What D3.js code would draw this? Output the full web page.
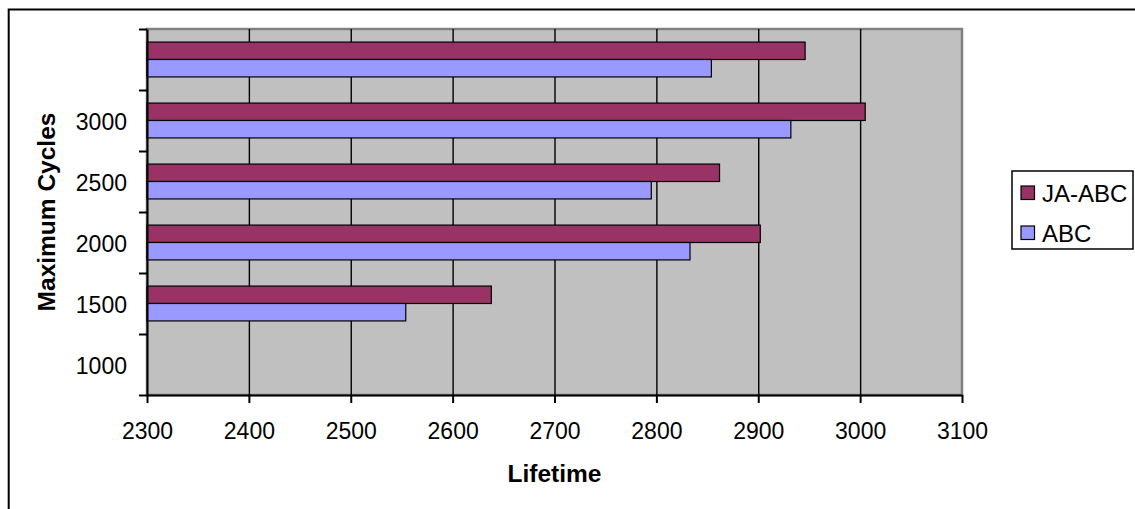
<!DOCTYPE html>
<html>
<head>
<meta charset="utf-8">
<script src="https://cdn.jsdelivr.net/npm/d3@7"></script>
<style>
  html, body { margin: 0; padding: 0; background: #fff; }
  svg { display: block; font-family: "Liberation Sans", Arial, sans-serif; }
</style>
</head>
<body>
<svg id="chart" width="1135" height="509"></svg>
<script>
// Category labels, bottom to top (the top group carries no label)
const categories = ["1000", "1500", "2000", "2500", "3000", ""];
const seriesNames = ["JA-ABC", "ABC"];
const jaAbcValues = [null, 2638, 2902, 2862, 3005, 2946];
const abcValues   = [null, 2554, 2833, 2795, 2932, 2854];
const xTickValues = [2300, 2400, 2500, 2600, 2700, 2800, 2900, 3000, 3100];
const seriesColors = ["#993366", "#9999FF"];

const svg = d3.select("#chart");
const plot = { left: 147, top: 29, right: 962, bottom: 395 };

const x = d3.scaleLinear().domain([2300, 3100]).range([plot.left, plot.right]);

// Gap width 150%: inner padding 1.5/3.5, outer padding half of that
const y = d3.scaleBand()
  .domain(categories.slice().reverse())
  .range([plot.top, plot.bottom])
  .paddingInner(1.5 / 3.5)
  .paddingOuter(0.75 / 3.5);

const ySub = d3.scaleBand().domain(seriesNames).range([0, y.bandwidth()]);

const rows = categories.map((c, i) => ({
  cat: c,
  values: [
    { name: seriesNames[0], v: jaAbcValues[i], color: seriesColors[0] },
    { name: seriesNames[1], v: abcValues[i], color: seriesColors[1] }
  ]
}));

// Outer chart frame
svg.append("rect")
  .attr("x", 8.7).attr("y", 9.5)
  .attr("width", 1200).attr("height", 600)
  .attr("fill", "#fff").attr("stroke", "#000").attr("stroke-width", 2);

// Plot area
svg.append("rect")
  .attr("x", plot.left).attr("y", plot.top)
  .attr("width", plot.right - plot.left).attr("height", plot.bottom - plot.top)
  .attr("fill", "#C0C0C0").attr("stroke", "#808080").attr("stroke-width", 2.5);

// Vertical gridlines
svg.append("g")
  .attr("transform", `translate(0,${plot.bottom})`)
  .call(d3.axisBottom(x)
    .tickValues(xTickValues.slice(1, -1))
    .tickSize(-(plot.bottom - plot.top))
    .tickFormat(""))
  .call(g => g.select(".domain").remove())
  .call(g => g.selectAll("line").attr("stroke", "#000").attr("stroke-width", 1.4));

// Bars
const groups = svg.append("g").selectAll("g")
  .data(rows)
  .join("g")
  .attr("transform", d => `translate(0,${y(d.cat)})`);

groups.selectAll("rect")
  .data(d => d.values.filter(s => s.v != null))
  .join("rect")
  .attr("x", x(2300))
  .attr("y", s => ySub(s.name))
  .attr("width", s => x(s.v) - x(2300))
  .attr("height", ySub.bandwidth())
  .attr("fill", s => s.color)
  .attr("stroke", "#000")
  .attr("stroke-width", 1.2);

// X axis
svg.append("g")
  .attr("transform", `translate(0,${plot.bottom})`)
  .call(d3.axisBottom(x).tickValues(xTickValues).tickFormat(d3.format("d"))
    .tickSize(8).tickSizeOuter(0).tickPadding(20))
  .call(g => g.select(".domain").attr("stroke", "#000").attr("stroke-width", 2))
  .call(g => g.selectAll(".tick line").attr("stroke", "#000").attr("stroke-width", 2))
  .call(g => g.selectAll("text")
    .attr("font-family", "'Liberation Sans', Arial, sans-serif")
    .attr("font-size", 23).attr("fill", "#000"));

// Y axis: tick marks at category boundaries
const step = y.step();
const firstStart = y(y.domain()[0]) - (step - y.bandwidth()) / 2;
const boundaries = d3.range(categories.length + 1).map(i => firstStart + i * step);
const yEdge = d3.scaleLinear().domain([0, categories.length]).range([boundaries[0], boundaries[categories.length]]);

svg.append("g")
  .attr("transform", `translate(${plot.left},0)`)
  .call(d3.axisLeft(yEdge).tickValues(d3.range(categories.length + 1)).tickSize(8).tickSizeOuter(0).tickFormat(""))
  .call(g => g.select(".domain").attr("stroke", "#000").attr("stroke-width", 2))
  .call(g => g.selectAll(".tick line").attr("stroke", "#000").attr("stroke-width", 2));

// Y axis category labels
svg.append("g")
  .attr("transform", `translate(${plot.left},0)`)
  .call(d3.axisLeft(y).tickSize(0).tickPadding(20))
  .call(g => g.select(".domain").remove())
  .call(g => g.selectAll("text")
    .attr("dy", "0.41em")
    .attr("font-family", "'Liberation Sans', Arial, sans-serif")
    .attr("font-size", 23).attr("fill", "#000"));

// Axis titles
svg.append("text")
  .attr("x", (plot.left + plot.right) / 2).attr("y", 482)
  .attr("text-anchor", "middle")
  .attr("font-size", 24.5).attr("font-weight", "bold")
  .text("Lifetime");

svg.append("text")
  .attr("transform", `translate(55,${(plot.top + plot.bottom) / 2}) rotate(-90)`)
  .attr("text-anchor", "middle")
  .attr("font-size", 24.5).attr("font-weight", "bold")
  .text("Maximum Cycles");

// Legend
const legend = svg.append("g");
legend.append("rect")
  .attr("x", 1012).attr("y", 171).attr("width", 121).attr("height", 78)
  .attr("fill", "#fff").attr("stroke", "#000").attr("stroke-width", 1.5);

const items = legend.selectAll("g.item")
  .data(seriesNames.map((n, i) => ({ name: n, color: seriesColors[i] })))
  .join("g")
  .attr("class", "item")
  .attr("transform", (d, i) => `translate(1021,${186 + i * 40})`);

items.append("rect")
  .attr("width", 13.5).attr("height", 13.5)
  .attr("fill", d => d.color).attr("stroke", "#000").attr("stroke-width", 1.2);

items.append("text")
  .attr("x", 21).attr("y", 15.5)
  .attr("font-size", 24).attr("fill", "#000")
  .text(d => d.name);
</script>
</body>
</html>
